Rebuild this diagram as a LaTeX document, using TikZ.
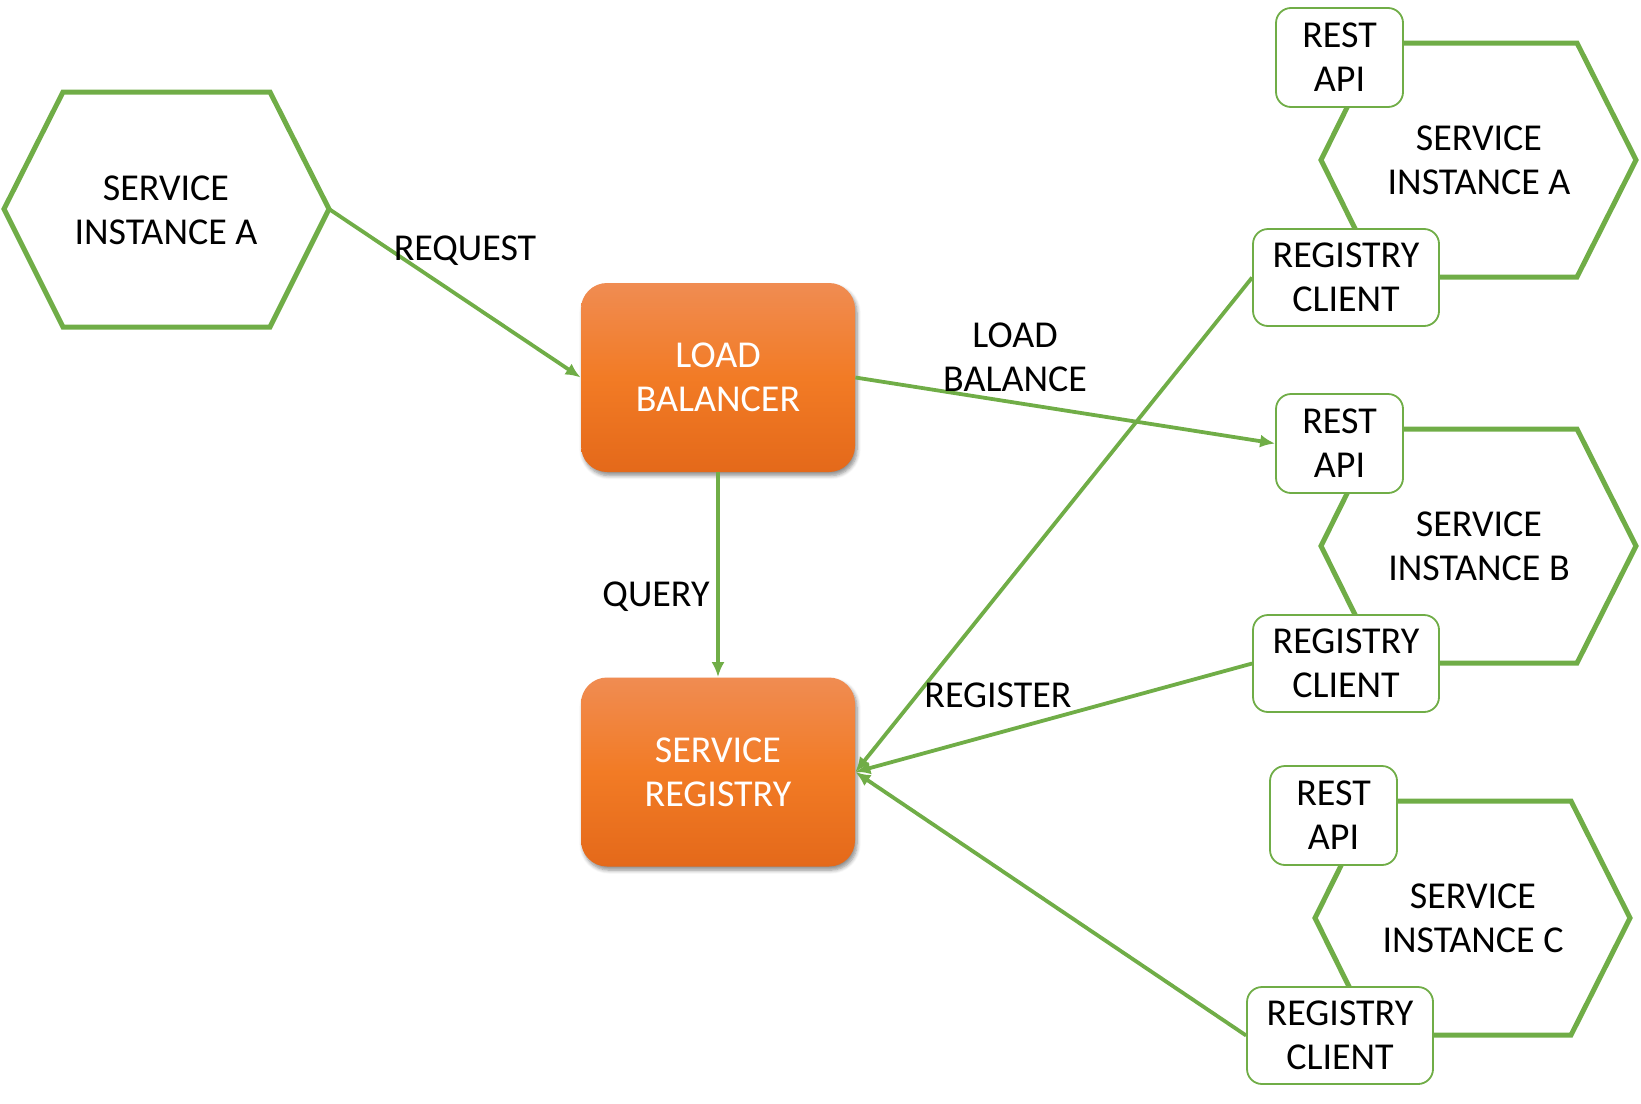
\documentclass[tikz,border=0pt]{standalone}
\usepackage{fontspec}
\setmainfont{Carlito}
\usetikzlibrary{arrows.meta,shadows.blur}
\definecolor{grn}{HTML}{70AD47}
\definecolor{otop}{HTML}{F08C52}
\definecolor{omid}{HTML}{F27B25}
\definecolor{obot}{HTML}{E4691A}
\tikzset{
  txt/.style={font=\fontsize{19pt}{22pt}\selectfont, align=center, inner sep=0pt},
  lbl/.style={txt, text=black},
  hexline/.style={draw=grn, line width=2.5pt, line join=miter},
  obox/.style={txt, rounded corners=13pt, minimum width=137pt, minimum height=94.5pt,
    top color=otop, bottom color=obot, middle color=omid, draw=none, text=white,
    blur shadow={shadow xshift=1pt, shadow yshift=-1.8pt, shadow blur steps=6, shadow opacity=45}},
  sbox/.style={txt, draw=grn, line width=0.9pt, fill=white, rounded corners=7.5pt, text=black},
  restbox/.style={sbox, minimum width=63.5pt, minimum height=49.5pt},
  regbox/.style={sbox, minimum width=93pt, minimum height=48.5pt},
  conn/.style={draw=grn, line width=1.9pt, -{Latex[length=7.5pt,width=6.5pt]}},
}
\begin{document}
\begin{tikzpicture}[x=0.5pt,y=-0.5pt]
\useasboundingbox (0,0) rectangle (1641,1103);

% left hexagon
\draw[hexline] (4,209) -- (63,92) -- (270,92) -- (329,209) -- (270,327) -- (63,327) -- cycle;
\coordinate (hexLright) at (329,209);
\node[lbl] (hexLtext) at (166,210) {SERVICE\\INSTANCE A};

% right hexagons
\draw[hexline] (1321,160) -- (1379,43) -- (1577,43) -- (1636,160) -- (1577,277) -- (1379,277) -- cycle;
\node[lbl] (hexAtext) at (1479,160) {SERVICE\\INSTANCE A};
\begin{scope}[shift={(0,386)}]
\draw[hexline] (1321,160) -- (1379,43) -- (1577,43) -- (1636,160) -- (1577,277) -- (1379,277) -- cycle;
\node[lbl] (hexBtext) at (1479,160) {SERVICE\\INSTANCE B};
\end{scope}
\begin{scope}[shift={(-6,758)}]
\draw[hexline] (1321,160) -- (1379,43) -- (1577,43) -- (1636,160) -- (1577,277) -- (1379,277) -- cycle;
\node[lbl] (hexCtext) at (1479,160) {SERVICE\\INSTANCE C};
\end{scope}

% orange boxes
\node[obox] (lb) at (718,377.5) {LOAD\\BALANCER};
\node[obox] (sr) at (718,772) {SERVICE\\REGISTRY};

% small boxes
\node[restbox] (restA) at (1339.5,57.5) {REST\\API};
\node[regbox] (regA) at (1346,277.5) {REGISTRY\\CLIENT};
\node[restbox] (restB) at (1339.5,443.5) {REST\\API};
\node[regbox] (regB) at (1346,663.5) {REGISTRY\\CLIENT};
\node[restbox] (restC) at (1333.5,815.5) {REST\\API};
\node[regbox] (regC) at (1340,1035.5) {REGISTRY\\CLIENT};

% connectors
\draw[conn] (hexLright) -- (lb.west);
\draw[conn] (lb.east) -- (restB.west);
\draw[conn] (lb.south) -- (sr.north);
\draw[conn] (regA.west) -- (sr.east);
\draw[conn] (regB.west) -- (sr.east);
\draw[conn] (regC.west) -- (sr.east);

% labels
\node[lbl] (lreq) at (465,251) {REQUEST};
\node[lbl] (llb) at (1015,357) {LOAD\\BALANCE};
\node[lbl] (lq) at (656,597) {QUERY};
\node[lbl] (lreg) at (998,695) {REGISTER};
\end{tikzpicture}
\end{document}
